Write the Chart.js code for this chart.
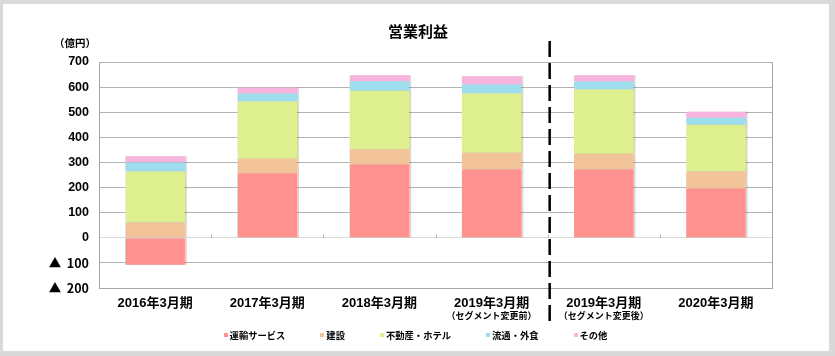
<!DOCTYPE html>
<html><head><meta charset="utf-8">
<script src="https://cdn.jsdelivr.net/npm/chart.js@4"></script>
<style>html,body{margin:0;padding:0;background:#d9d9d9;overflow:hidden}canvas{display:block}</style>
</head><body>
<canvas id="c" width="835" height="356"></canvas>
<script>
const categories = ['2016年3月期','2017年3月期','2018年3月期','2019年3月期','2019年3月期','2020年3月期'];
const subLabels = ['','','','（セグメント変更前）','（セグメント変更後）',''];
const seriesNames = ['運輸サービス','建設','不動産・ホテル','流通・外食','その他'];
const transport    = [-107, 257, 292, 272, 272, 196];
const construction = [  61,  58,  61,  67,  63,  68];
const realEstate   = [ 203, 228, 233, 236, 255, 186];
const retail       = [  36,  32,  37,  35,  32,  28];
const other        = [  25,  23,  24,  33,  25,  24];
const yMin = -200, yMax = 700, yStep = 100;
const titleText = '営業利益';
const unitText = '（億円）';
const colors = ['#ff918e','#f2c298','#ddef8e','#9edded','#f7b4df'];

const CJK = "'Noto Sans CJK JP', sans-serif";
const LAT = "'Liberation Sans', 'Noto Sans CJK JP', sans-serif";

const decor = {
  id: 'decor',
  beforeDraw(chart) {
    const c = chart.ctx;
    c.save();
    c.fillStyle = '#d9d9d9'; c.fillRect(0, 0, chart.width, chart.height);
    c.fillStyle = '#ffffff'; c.fillRect(3, 4, 826, 347);
    c.restore();
  },
  beforeDatasetsDraw(chart) {
    const c = chart.ctx;
    c.save();
    c.shadowColor = 'rgba(0,0,0,0.16)';
    c.shadowOffsetX = 2; c.shadowOffsetY = 0; c.shadowBlur = 0;
  },
  afterDatasetsDraw(chart) { chart.ctx.restore(); },
  afterDraw(chart) {
    const c = chart.ctx, xs = chart.scales.x, ys = chart.scales.y, a = chart.chartArea;
    c.save();
    c.strokeStyle = '#a6a6a6'; c.lineWidth = 1;
    c.beginPath(); c.moveTo(Math.round(a.right) + 0.5, a.top); c.lineTo(Math.round(a.right) + 0.5, a.bottom); c.stroke();
    const y0 = Math.round(ys.getPixelForValue(0));
    c.strokeStyle = '#bfbfbf';
    for (let i = 1; i < categories.length; i++) {
      const bx = Math.round((xs.getPixelForValue(i - 1) + xs.getPixelForValue(i)) / 2) + 0.5;
      c.beginPath(); c.moveTo(bx, y0); c.lineTo(bx, y0 - 4); c.stroke();
    }
    const dx = (xs.getPixelForValue(3) + xs.getPixelForValue(4)) / 2 + 2;
    c.strokeStyle = '#000'; c.lineWidth = 2.5; c.setLineDash([16, 6]);
    c.beginPath(); c.moveTo(dx, a.top - 21); c.lineTo(dx, a.bottom + 33); c.stroke();
    c.setLineDash([]);
    c.fillStyle = '#000'; c.textAlign = 'center'; c.textBaseline = 'middle';
    c.font = 'bold 15px ' + CJK;
    c.fillText(titleText, 418, 31);
    c.font = 'bold 10.5px ' + CJK;
    c.fillText(unitText, 75, 43);
    c.font = 'bold 9px ' + CJK;
    subLabels.forEach((s, i) => { if (s) c.fillText(s, xs.getPixelForValue(i), 316); });
    c.font = 'bold 9.3px ' + CJK;
    const box = 4, gapT = 2, pad = 35;
    const widths = seriesNames.map(n => box + gapT + c.measureText(n).width);
    const total = widths.reduce((p, q) => p + q, 0) + pad * (seriesNames.length - 1);
    let lx = chart.width / 2 - total / 2 - 2;
    const ly = 335;
    c.textAlign = 'left';
    seriesNames.forEach((n, i) => {
      c.fillStyle = colors[i];
      c.fillRect(Math.round(lx), ly - 2, box, box);
      c.fillStyle = '#000';
      c.fillText(n, lx + box + gapT, ly);
      lx += widths[i] + pad;
    });
    c.restore();
  }
};

const seriesData = [transport, construction, realEstate, retail, other];
new Chart(document.getElementById('c'), {
  type: 'bar',
  data: {
    labels: categories,
    datasets: seriesData.map((d, i) => ({
      label: seriesNames[i], data: d, backgroundColor: colors[i], borderWidth: 0,
      categoryPercentage: 1, barPercentage: 0.53
    }))
  },
  options: {
    responsive: false, animation: false, devicePixelRatio: 1,
    layout: { padding: { left: 0, right: 63, top: 62, bottom: 0 } },
    plugins: { legend: { display: false }, title: { display: false }, tooltip: { enabled: false } },
    scales: {
      x: {
        stacked: true,
        grid: { display: false, drawTicks: false },
        border: { display: true, color: '#a6a6a6' },
        ticks: { color: '#000', font: { family: LAT, size: 13, weight: 'bold' }, padding: 8, maxRotation: 0, autoSkip: false },
        afterFit(s) { s.height = 68; }
      },
      y: {
        stacked: true, min: yMin, max: yMax,
        grid: {
          drawTicks: false,
          color: ctx => ctx.tick && ctx.tick.value === 0 ? '#d9d9d9' : '#b3b3b3'
        },
        border: { display: true, color: '#a6a6a6' },
        ticks: {
          stepSize: yStep, color: '#000', padding: 10,
          font: ctx => ({ family: (ctx.tick && ctx.tick.value < 0) ? CJK : LAT, size: 12.5, weight: 'bold' }),
          callback: v => v < 0 ? '▲  ' + (-v) : String(v)
        },
        afterFit(s) { s.width = 99; }
      }
    }
  },
  plugins: [decor]
});
</script>
</body></html>
